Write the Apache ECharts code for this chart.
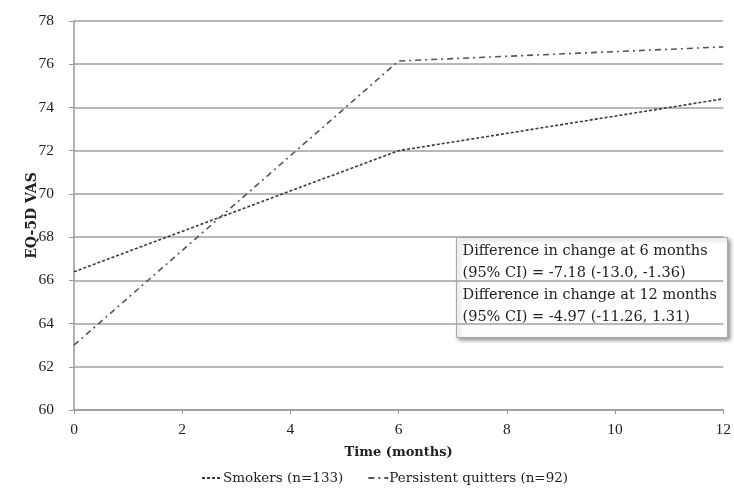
<!DOCTYPE html>
<html><head><meta charset="utf-8">
<script src="https://cdn.jsdelivr.net/npm/echarts@6/dist/echarts.min.js"></script>
<style>html,body{margin:0;padding:0;background:#fff}#c{width:734px;height:495px}</style>
</head><body><div id="c"></div>
<script>
const months = [0, 6, 12];
const smokers = [66.4, 72.0, 74.4];
const quitters = [63.0, 76.15, 76.8];
const yTicks = [60, 62, 64, 66, 68, 70, 72, 74, 76, 78];
const xTicks = [0, 2, 4, 6, 8, 10, 12];
const seriesNames = ['Smokers (n=133)', 'Persistent quitters (n=92)'];
const noteLines = ['Difference in change at 6 months', '(95% CI) = -7.18 (-13.0, -1.36)', 'Difference in change at 12 months', '(95% CI) = -4.97 (-11.26, 1.31)'];

const font = '"Liberation Serif", "DejaVu Serif", serif';
const wide = '"DejaVu Serif", serif';
const chart = echarts.init(document.getElementById('c'));
chart.setOption({
  animation: false,
  backgroundColor: '#fff',
  textStyle: { fontFamily: font },
  grid: { left: 74, right: 7, top: 21, bottom: 85 },
  xAxis: {
    type: 'value', min: xTicks[0], max: xTicks[xTicks.length - 1], interval: 2,
    name: 'Time (months)', nameLocation: 'middle', nameGap: 36, nameMoveOverlap: false,
    nameTextStyle: { fontFamily: wide, fontWeight: 'bold', fontSize: 13, color: '#222' },
    axisLine: { lineStyle: { color: '#999', width: 1.5 } },
    axisTick: { show: true, length: 4, lineStyle: { color: '#999' } },
    axisLabel: { fontFamily: font, fontSize: 15.5, color: '#222', margin: 12 },
    splitLine: { show: false }
  },
  yAxis: {
    type: 'value', min: yTicks[0], max: yTicks[yTicks.length - 1], interval: 2,
    name: 'EQ-5D VAS', nameLocation: 'middle', nameGap: 35, nameRotate: 90, nameMoveOverlap: false,
    nameTextStyle: { fontFamily: wide, fontWeight: 'bold', fontSize: 14, color: '#222' },
    axisLine: { show: true, lineStyle: { color: '#999', width: 1.5 } },
    axisTick: { show: true, length: 5, lineStyle: { color: '#999' } },
    axisLabel: { fontFamily: font, fontSize: 15.5, color: '#222', margin: 20 },
    splitLine: { show: true, lineStyle: { color: '#a0a0a0', width: 1.5 } }
  },
  legend: {
    bottom: 5, left: 196, itemGap: 24, itemWidth: 20, itemHeight: 10,
    textStyle: { fontFamily: wide, fontSize: 13.5, color: '#222', padding: [0, 0, 0, -4] },
    itemStyle: { opacity: 0 },
    data: seriesNames
  },
  series: [
    {
      name: seriesNames[0], type: 'line', symbol: 'none',
      data: months.map((m, i) => [m, smokers[i]]),
      lineStyle: { color: '#3a3a3a', width: 1.6, type: [3, 2] },
      itemStyle: { color: '#3a3a3a' }
    },
    {
      name: seriesNames[1], type: 'line', symbol: 'none',
      data: months.map((m, i) => [m, quitters[i]]),
      lineStyle: { color: '#555', width: 1.6, type: [6, 4, 2, 4] },
      itemStyle: { color: '#555' }
    }
  ],
  graphic: [
    {
      type: 'group', left: 456, top: 237,
      children: [
        { type: 'rect', shape: { x: 0, y: 0, width: 271, height: 100 },
          style: { fill: '#fff', stroke: '#aaa', lineWidth: 1, shadowBlur: 4, shadowOffsetX: 2, shadowOffsetY: 2, shadowColor: 'rgba(0,0,0,0.4)' } },
        { type: 'text', left: 6, top: 3,
          style: { text: noteLines.join('\n'), font: '14.5px ' + wide, fill: '#222', lineHeight: 22 } }
      ]
    }
  ]
});
</script></body></html>
